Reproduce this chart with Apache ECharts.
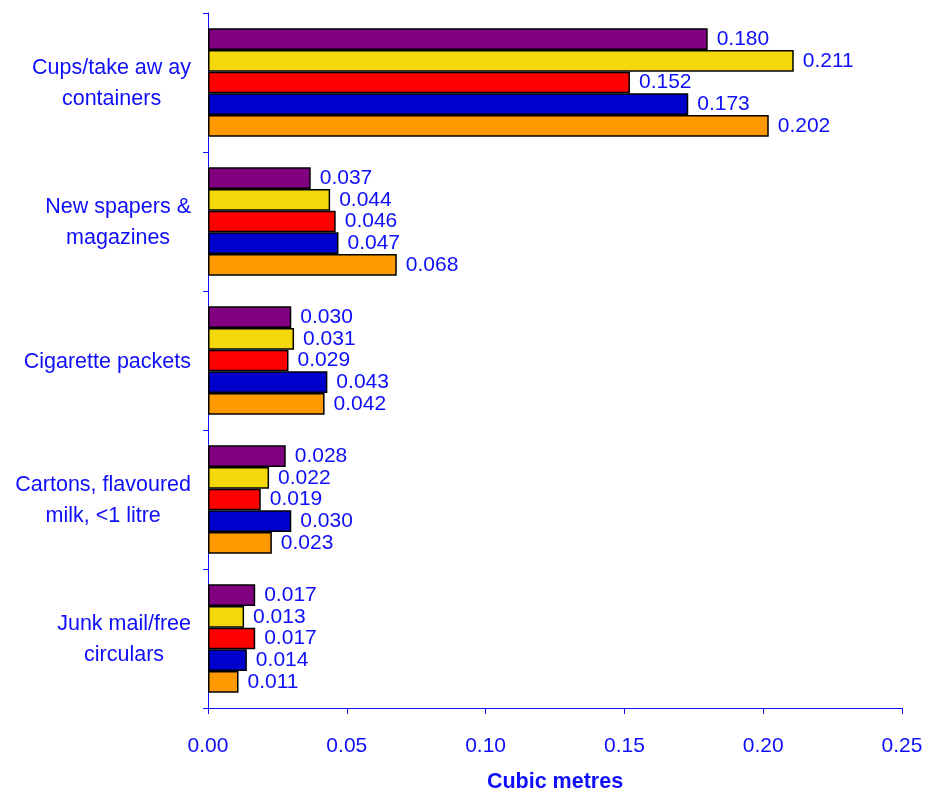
<!DOCTYPE html>
<html><head><meta charset="utf-8">
<script src="https://cdn.jsdelivr.net/npm/echarts@6/dist/echarts.min.js"></script>
<style>html,body{margin:0;padding:0;background:#fff}#c{width:926px;height:791px}</style>
</head><body><div id="c"></div>
<script>
const categories = ["Cups/take aw ay\ncontainers", "New spapers &\nmagazines", "Cigarette packets", "Cartons, flavoured\nmilk, <1 litre", "Junk mail/free\ncirculars"];
const seriesNames = ["Series 1", "Series 2", "Series 3", "Series 4", "Series 5"];
const s1 = [0.180, 0.037, 0.030, 0.028, 0.017];
const s2 = [0.211, 0.044, 0.031, 0.022, 0.013];
const s3 = [0.152, 0.046, 0.029, 0.019, 0.017];
const s4 = [0.173, 0.047, 0.043, 0.030, 0.014];
const s5 = [0.202, 0.068, 0.042, 0.023, 0.011];
const xTicks = [0, 0.05, 0.10, 0.15, 0.20, 0.25];

const colors = ["#800080", "#F4D80C", "#FF0000", "#0000CC", "#FF9900"];
const textColor = "#0E0EF8";
const font = "Liberation Sans, Arial, sans-serif";
const all = [s1, s2, s3, s4, s5];

const chart = echarts.init(document.getElementById('c'), null, {renderer: 'canvas'});
chart.setOption({
  backgroundColor: '#fff',
  animation: false,
  grid: {left: 208, right: 24, top: 13, bottom: 83, containLabel: false, outerBoundsMode: 'none'},
  xAxis: {
    type: 'value', min: xTicks[0], max: xTicks[xTicks.length - 1], interval: xTicks[1] - xTicks[0],
    name: 'Cubic metres', nameLocation: 'middle', nameGap: 63,
    nameTextStyle: {color: textColor, fontFamily: font, fontSize: 21.5, fontWeight: 'bold'},
    axisLine: {show: true, lineStyle: {color: textColor, width: 1}},
    axisTick: {show: true, length: 6, lineStyle: {color: textColor}},
    axisLabel: {color: textColor, fontFamily: font, fontSize: 21, margin: 28,
      formatter: v => v.toFixed(2)},
    splitLine: {show: false}
  },
  yAxis: {
    type: 'category', data: categories, inverse: true,
    axisLine: {show: true, lineStyle: {color: textColor, width: 1}},
    axisTick: {show: true, length: 5, lineStyle: {color: textColor}},
    axisLabel: {
      margin: 17,
      formatter: v => v.split('\n').map(l => '{a|' + l + '}').join('\n'),
      rich: {a: {color: textColor, fontFamily: font, fontSize: 21.5, lineHeight: 31, align: 'center', padding: [3, 0, 0, 0]}}
    }
  },
  series: all.map((d, i) => ({
    name: seriesNames[i], type: 'bar', data: d,
    barGap: '0%', barCategoryGap: '22%',
    itemStyle: {color: colors[i], borderColor: '#000', borderWidth: 1.5},
    label: {show: true, position: 'right', distance: 9, color: textColor, fontFamily: font, fontSize: 21,
      formatter: p => p.value.toFixed(3)}
  }))
});
</script></body></html>
